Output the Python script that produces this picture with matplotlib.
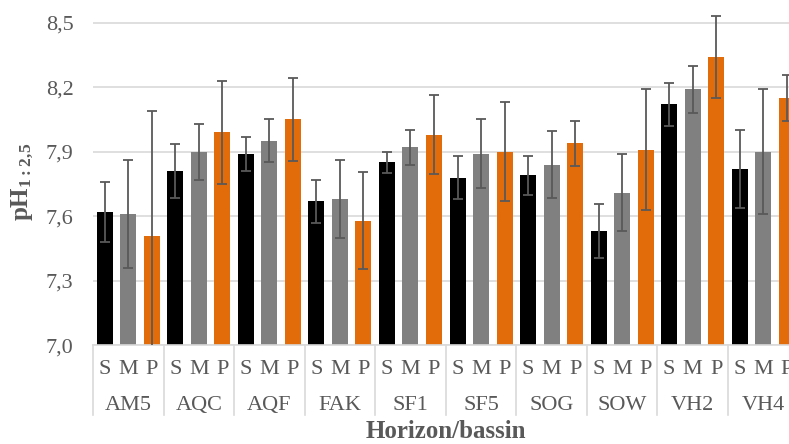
import matplotlib
matplotlib.use("Agg")
import matplotlib.pyplot as plt
import numpy as np

plt.rcParams["font.family"] = ["Liberation Serif", "DejaVu Serif"]
plt.rcParams["mathtext.fontset"] = "custom"
plt.rcParams["mathtext.rm"] = "Liberation Serif"
plt.rcParams["mathtext.bf"] = "Liberation Serif:bold"

groups = ["AM5", "AQC", "AQF", "FAK", "SF1", "SF5", "SOG", "SOW", "VH2", "VH4"]
horizons = ["S", "M", "P"]

ph_s = [7.62, 7.81, 7.89, 7.67, 7.85, 7.78, 7.79, 7.53, 8.12, 7.82]
ph_m = [7.61, 7.90, 7.95, 7.68, 7.92, 7.89, 7.84, 7.71, 8.19, 7.90]
ph_p = [7.51, 7.99, 8.05, 7.58, 7.98, 7.90, 7.94, 7.91, 8.34, 8.15]

sd_s = [0.14, 0.125, 0.08, 0.10, 0.05, 0.10, 0.09, 0.125, 0.10, 0.18]
sd_m = [0.25, 0.13, 0.10, 0.18, 0.08, 0.16, 0.155, 0.18, 0.11, 0.29]
sd_p = [0.58, 0.24, 0.195, 0.225, 0.185, 0.23, 0.105, 0.28, 0.19, 0.105]

colors = ["#000000", "#808080", "#E36C0A"]
text_col = "#595959"
grid_col = "#D9D9D9"

W, H = 789, 444
fig = plt.figure(figsize=(W / 100, H / 100), dpi=100)

# plot area runs past the right edge, as in the reference
x0, x1 = 93, 798.5
y_bot, y_top = 345.2, 10
ax = fig.add_axes([x0 / W, 1 - y_bot / H, (x1 - x0) / W, (y_bot - y_top) / H])

px_per_unit = (345.2 - 22.7) / 1.5
ymax = 7.0 + (y_bot - y_top) / px_per_unit
ax.set_xlim(0, len(groups))
ax.set_ylim(7.0, ymax)

yticks = np.arange(7.0, 8.51, 0.3)
ax.set_yticks(yticks)
ax.set_yticklabels([f"{t:.1f}".replace(".", ",") for t in yticks],
                   fontsize=16, color=text_col)
ax.tick_params(axis="y", length=0, pad=14)
ax.set_xticks([])
for s in ax.spines.values():
    s.set_visible(False)
for t in yticks:
    ax.axhline(t, color=grid_col, lw=1.2, zorder=0)

bar_w = 0.227
x = np.arange(len(groups))
for j, (vals, sds) in enumerate(zip([ph_s, ph_m, ph_p], [sd_s, sd_m, sd_p])):
    xs = x + (j + 0.5) / 3
    ax.bar(xs, vals, width=bar_w, bottom=0, color=colors[j], zorder=2)
    ax.errorbar(xs, vals, yerr=sds, fmt="none", ecolor=text_col,
                elinewidth=1.3, capsize=3.5, capthick=1.3, zorder=3)

# category axis below the plot
tr = ax.get_xaxis_transform()
sub_y = -24 / (y_bot - y_top)
grp_y = -60.5 / (y_bot - y_top)
sep_y = -70 / (y_bot - y_top)
for i, g in enumerate(groups):
    for j, h in enumerate(horizons):
        ax.text(i + (j + 0.5) / 3, sub_y, h, transform=tr, ha="center",
                va="center", fontsize=16, color=text_col, clip_on=False)
    ax.text(i + 0.5, grp_y, g, transform=tr, ha="center", va="center",
            fontsize=16, color=text_col, clip_on=False)
for i in range(len(groups) + 1):
    ax.plot([i, i], [0, sep_y], transform=tr, color=grid_col, lw=1.2,
            clip_on=False)
ax.plot([0, len(groups)], [0, 0], transform=tr, color=grid_col, lw=1.2,
        clip_on=False)

fig.text(445.5 / W, 1 - 431 / H, "Horizon/bassin", ha="center", va="center",
         fontsize=18, fontweight="bold", color=text_col)
fig.text(23 / W, 1 - 182 / H, r"$\mathbf{pH_{1{:}2{,}5}}$", ha="center",
         va="center", rotation=90, fontsize=18, color=text_col)

fig.savefig("out.png", dpi=100)
